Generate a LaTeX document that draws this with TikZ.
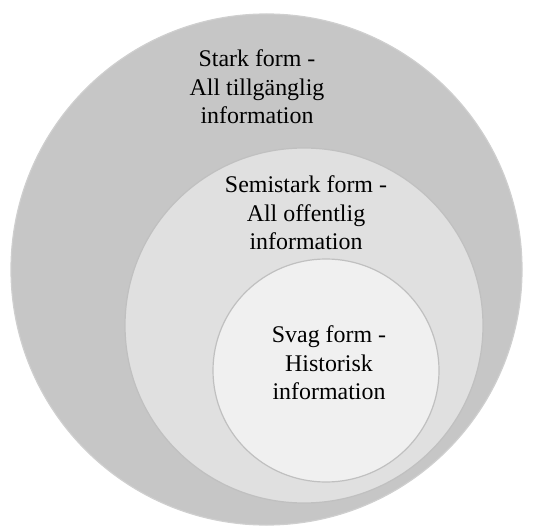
\documentclass[tikz,border=0pt]{standalone}
\usepackage{fontspec}
\setmainfont{Liberation Serif}

\definecolor{strongfill}{HTML}{C6C6C6}
\definecolor{semifill}{HTML}{E0E0E0}
\definecolor{weakfill}{HTML}{F0F0F0}
\definecolor{ringline}{HTML}{C0C0C0}

\tikzset{
    formtext/.style={align=center, inner sep=0pt,
        font=\fontsize{24}{28.5}\selectfont},
    ring/.style={draw=ringline, line width=1.2bp}
}

\begin{document}
\begin{tikzpicture}[x=1bp, y=-1bp]
    \useasboundingbox (0,0) rectangle (534,527);

    % nested forms of market efficiency
    \filldraw[ring, draw=strongfill!85!white, fill=strongfill] (266.5,269.5) ellipse (255.5 and 255.5);
    \filldraw[ring, fill=semifill] (304,325.5) ellipse (179 and 177.5);
    \filldraw[ring, fill=weakfill] (326,370.5) ellipse (113 and 111.5);

    \node[formtext] (stark) at (257,87) {Stark form -\\All tillgänglig\\information};
    \node[formtext] (semistark) at (306,213) {Semistark form -\\All offentlig\\information};
    \node[formtext] (svag) at (329,363) {Svag form -\\Historisk\\information};
\end{tikzpicture}
\end{document}
